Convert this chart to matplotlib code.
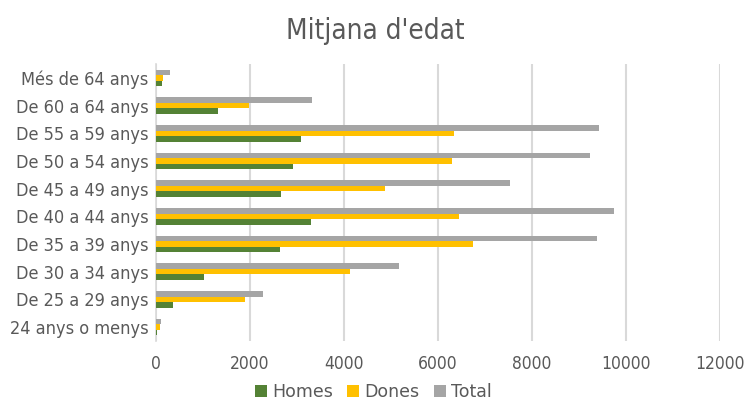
import numpy as np
import matplotlib
matplotlib.use("Agg")
import matplotlib.pyplot as plt

# Dades (llegides del gràfic)
categories = ["24 anys o menys", "De 25 a 29 anys", "De 30 a 34 anys", "De 35 a 39 anys",
              "De 40 a 44 anys", "De 45 a 49 anys", "De 50 a 54 anys", "De 55 a 59 anys",
              "De 60 a 64 anys", "Més de 64 anys"]
homes = [25, 366, 1038, 2643, 3309, 2677, 2919, 3089, 1336, 145]
dones = [89, 1911, 4138, 6749, 6457, 4877, 6315, 6351, 1996, 153]
total = [110, 2281, 5174, 9394, 9762, 7543, 9238, 9443, 3336, 308]
xticks = [0, 2000, 4000, 6000, 8000, 10000, 12000]

text_color = "#595959"
plt.rcParams['font.family'] = ['DejaVu Sans']

fig = plt.figure(figsize=(7.47, 4.01), dpi=100)
ax = fig.add_axes([0.2082, 0.150, 0.755, 0.690])

y = np.arange(len(categories))
h = 0.2
ax.barh(y - h, homes, height=h, color="#548235", label="Homes", zorder=3)
ax.barh(y, dones, height=h, color="#FFC000", label="Dones", zorder=3)
ax.barh(y + h, total, height=h, color="#A5A5A5", label="Total", zorder=3)

ax.set_xlim(0, 12000)
ax.set_ylim(-0.5, len(categories) - 0.5)
ax.set_xticks(xticks)
ax.set_yticks(y)
ax.set_yticklabels(categories)
ax.tick_params(axis='both', length=0, colors=text_color, labelsize=12.5)
ax.tick_params(axis='y', labelsize=13, pad=5)
ax.tick_params(axis='x', pad=10)
for lab in ax.get_xticklabels() + ax.get_yticklabels():
    lab.set_fontstretch('condensed')

ax.grid(axis='x', color="#D9D9D9", linewidth=1.5, zorder=0)
for s in ['top', 'right', 'bottom']:
    ax.spines[s].set_visible(False)
ax.spines['left'].set_color("#D9D9D9")
ax.spines['left'].set_linewidth(1.2)

fig.text(0.503, 0.922, "Mitjana d'edat", ha='center', va='center', fontsize=20,
         color=text_color, fontstretch='condensed')

leg = fig.legend(loc='center', bbox_to_anchor=(0.50, 0.022), ncol=3, frameon=False,
                 fontsize=12.5, handlelength=0.7, handleheight=0.7, handletextpad=0.3,
                 columnspacing=0.8, borderaxespad=0)
for t in leg.get_texts():
    t.set_color(text_color)

fig.savefig("out.png", dpi=100)
